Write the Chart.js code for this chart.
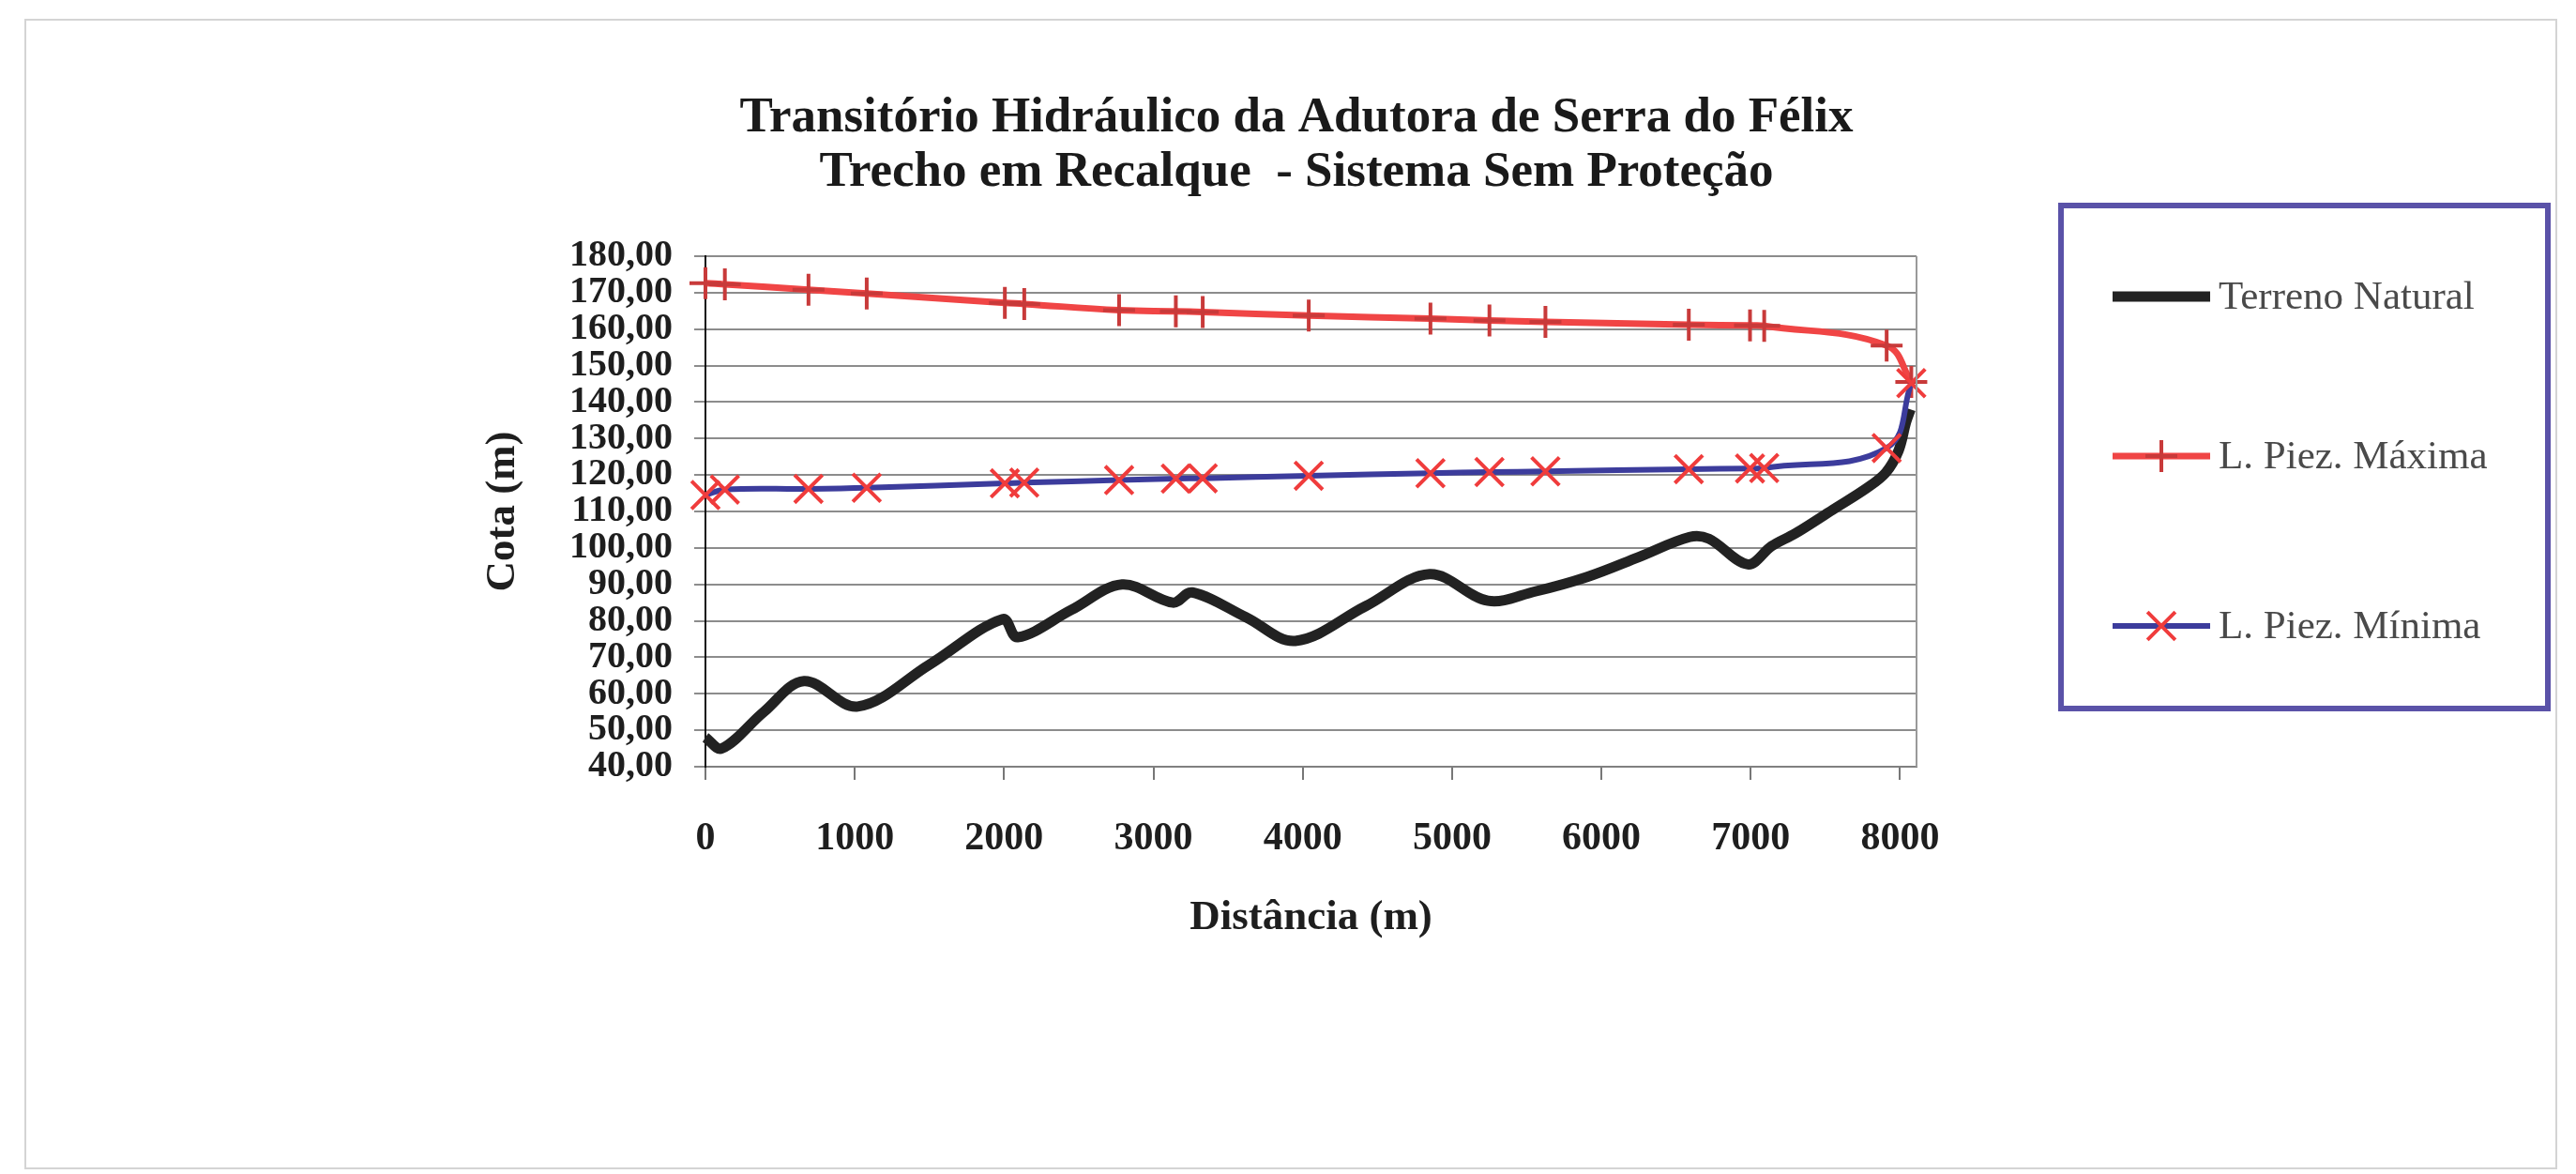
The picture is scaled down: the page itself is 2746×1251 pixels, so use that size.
<!DOCTYPE html>
<html>
<head>
<meta charset="utf-8">
<title>Transitório Hidráulico da Adutora de Serra do Félix</title>
<script src="https://cdn.jsdelivr.net/npm/chart.js@4.4.0/dist/chart.umd.min.js"></script>
<style>
  html, body { margin: 0; padding: 0; background: #fff; }
</style>
</head>
<body>
<canvas id="grafico" width="2746" height="1251"></canvas>
<script>
// Perfil do terreno: distância (m) e cota (m)
const terrenoX = [0, 110, 390, 660, 1020, 1500, 1990, 2090, 2450, 2790, 3130, 3260, 3620, 3950, 4420, 4850, 5240, 5550, 5900, 6250, 6590, 6720, 6980, 7140, 7300, 7550, 7780, 7905, 7990, 8040, 8070];
const terrenoY = [48, 45, 55, 63.5, 56.5, 68, 80.5, 75.5, 83, 90, 85, 87.8, 81, 74.5, 84, 92.8, 85.5, 88, 92, 97.5, 103, 102.5, 95.5, 100.5, 104, 110.5, 116.5, 120.7, 126.7, 134.5, 138];

// Nós onde as linhas piezométricas foram calculadas
const piezX = [0, 130, 690, 1080, 2005, 2135, 2770, 3150, 3330, 4040, 4855, 5250, 5625, 6585, 6995, 7090, 7910, 8075];
const piezMax = [172.6, 172.3, 170.8, 169.8, 167.2, 166.9, 165.2, 164.9, 164.7, 163.7, 162.9, 162.4, 162.0, 161.2, 161.0, 160.9, 155.5, 145.5];
const piezMin = [114.5, 116.0, 116.2, 116.5, 117.7, 117.9, 118.6, 119.0, 119.1, 119.8, 120.5, 120.8, 121.0, 121.6, 121.8, 121.9, 127.4, 145.2];

const ticksX = [0, 1000, 2000, 3000, 4000, 5000, 6000, 7000, 8000];
const nomesSeries = ['Terreno Natural', 'L. Piez. Máxima', 'L. Piez. Mínima'];
const tituloLinhas = ['Transitório Hidráulico da Adutora de Serra do Félix', 'Trecho em Recalque  - Sistema Sem Proteção'];

const serif = "'Liberation Serif', 'Times New Roman', serif";
Chart.defaults.font.family = serif;
Chart.defaults.color = '#1e1e1e';

function pontos(xs, ys) {
    return xs.map((x, i) => ({ x: x, y: ys[i] }));
}

// fundo, moldura, título e borda direita da área do gráfico
const moldura = {
    id: 'moldura',
    beforeDraw(chart) {
        const ctx = chart.ctx;
        ctx.save();
        ctx.fillStyle = '#fff';
        ctx.fillRect(0, 0, chart.width, chart.height);
        ctx.strokeStyle = '#d4d4d4';
        ctx.lineWidth = 2;
        ctx.strokeRect(27, 21, 2698, 1224);
        ctx.restore();
    },
    afterDatasetsDraw(chart) {
        const ctx = chart.ctx;
        const a = chart.chartArea;
        ctx.save();
        ctx.strokeStyle = '#9a9a9a';
        ctx.lineWidth = 2;
        ctx.beginPath();
        ctx.moveTo(a.right, a.top);
        ctx.lineTo(a.right, a.bottom);
        ctx.stroke();

        ctx.fillStyle = '#1a1a1a';
        ctx.font = 'bold 53px ' + serif;
        ctx.textAlign = 'center';
        ctx.textBaseline = 'alphabetic';
        ctx.fillText(tituloLinhas[0], 1382, 140);
        ctx.fillText(tituloLinhas[1], 1382, 198);
        ctx.restore();
    }
};

// legenda em caixa à direita, como no original
const legendaCaixa = {
    id: 'legendaCaixa',
    afterDraw(chart) {
        const ctx = chart.ctx;
        ctx.save();
        ctx.strokeStyle = '#5a52a8';
        ctx.lineWidth = 6;
        ctx.strokeRect(2197, 219, 519, 536);

        const linhasY = [316, 486, 667];
        chart.data.datasets.forEach((ds, i) => {
            const y = linhasY[i];
            ctx.strokeStyle = ds.borderColor;
            ctx.lineWidth = ds.borderWidth;
            ctx.lineCap = 'butt';
            ctx.beginPath();
            ctx.moveTo(2252, y);
            ctx.lineTo(2356, y);
            ctx.stroke();
            if (ds.pointRadius > 0) {
                ctx.strokeStyle = ds.pointBorderColor;
                ctx.fillStyle = ds.pointBorderColor;
                ctx.lineWidth = ds.pointBorderWidth;
                Chart.helpers.drawPoint(ctx, {
                    pointStyle: ds.pointStyle,
                    radius: ds.pointRadius,
                    borderWidth: ds.pointBorderWidth,
                    rotation: 0
                }, 2304, y);
            }
            ctx.fillStyle = '#4a4a4a';
            ctx.font = '43px ' + serif;
            ctx.textAlign = 'left';
            ctx.textBaseline = 'middle';
            ctx.fillText(nomesSeries[i], 2365, y + 2);
        });
        ctx.restore();
    }
};

new Chart(document.getElementById('grafico'), {
    type: 'line',
    data: {
        datasets: [
            {
                label: nomesSeries[0],
                data: pontos(terrenoX, terrenoY),
                borderColor: '#222222',
                borderWidth: 11,
                pointRadius: 0,
                tension: 0.35,
                clip: false,
                order: 3
            },
            {
                label: nomesSeries[1],
                data: pontos(piezX, piezMax),
                borderColor: '#f04545',
                borderWidth: 7,
                pointStyle: 'cross',
                pointRadius: 17,
                pointBorderWidth: 4,
                pointBorderColor: '#c83a3a',
                pointBackgroundColor: '#c83a3a',
                tension: 0.4,
                clip: false,
                order: 2
            },
            {
                label: nomesSeries[2],
                data: pontos(piezX, piezMin),
                borderColor: '#3c3c9c',
                borderWidth: 6,
                pointStyle: 'crossRot',
                pointRadius: 21,
                pointBorderWidth: 4,
                pointBorderColor: '#f03c3c',
                pointBackgroundColor: '#f03c3c',
                tension: 0.4,
                clip: false,
                order: 1
            }
        ]
    },
    options: {
        responsive: false,
        animation: false,
        devicePixelRatio: 1,
        layout: {
            padding: { top: 273, right: 703, bottom: 246, left: 509 }
        },
        plugins: {
            legend: { display: false },
            title: { display: false },
            tooltip: { enabled: false }
        },
        scales: {
            x: {
                type: 'linear',
                min: 0,
                max: 8110,
                afterBuildTicks: function (scale) {
                    scale.ticks = ticksX.map(v => ({ value: v }));
                },
                afterFit: function (scale) {
                    scale.height = 188;
                },
                ticks: {
                    autoSkip: false,
                    maxRotation: 0,
                    padding: 38,
                    font: { size: 42, weight: 'bold' },
                    callback: v => String(v)
                },
                grid: {
                    drawOnChartArea: false,
                    tickLength: 14,
                    color: '#777',
                    lineWidth: 2
                },
                border: { color: '#808080', width: 2 },
                title: {
                    display: true,
                    text: 'Distância (m)',
                    font: { size: 45, weight: 'bold' },
                    padding: 0
                }
            },
            y: {
                min: 40,
                max: 180,
                afterFit: function (scale) {
                    scale.width = 243;
                },
                ticks: {
                    stepSize: 10,
                    autoSkip: false,
                    padding: 23,
                    font: { size: 40, weight: 'bold' },
                    callback: v => v.toFixed(2).replace('.', ',')
                },
                grid: {
                    color: '#8c8c8c',
                    lineWidth: 2,
                    tickLength: 12
                },
                border: { color: '#111', width: 2 },
                title: {
                    display: true,
                    text: 'Cota (m)',
                    font: { size: 45, weight: 'bold' },
                    padding: 0
                }
            }
        }
    },
    plugins: [moldura, legendaCaixa]
});
</script>
</body>
</html>
